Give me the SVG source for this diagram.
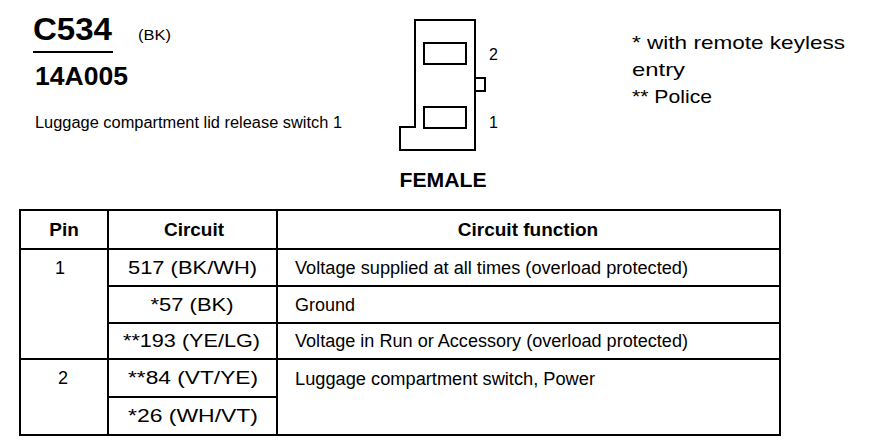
<svg xmlns="http://www.w3.org/2000/svg" width="890" height="448" viewBox="0 0 890 448">
<style>
text{font-family:"Liberation Sans",Arial,sans-serif;fill:#000}
.b{font-weight:bold}
.t{font-size:18px}
.th{font-size:19px;font-weight:bold;text-anchor:middle}
.c{text-anchor:middle}
.ln{stroke:#000;stroke-width:2;fill:none}
</style>
<rect width="890" height="448" fill="#fff"/>
<g id="header">
<text x="33" y="40" class="b" font-size="31" textLength="79" lengthAdjust="spacingAndGlyphs">C534</text>
<line x1="33" y1="52" x2="113" y2="52" stroke="#000" stroke-width="2"/>
<text x="138" y="40" font-size="14" textLength="33" lengthAdjust="spacingAndGlyphs">(BK)</text>
<text x="35" y="85" class="b" font-size="25" textLength="93" lengthAdjust="spacingAndGlyphs">14A005</text>
<text x="35" y="128" font-size="16" textLength="307" lengthAdjust="spacingAndGlyphs">Luggage compartment lid release switch 1</text>
</g>
<g id="connector">
<path class="ln" d="M415,20 H475 V150 H400 V127 H415 Z" stroke-width="2.5"/>
<rect class="ln" x="475" y="78" width="10" height="13"/>
<rect class="ln" x="424" y="43" width="42" height="21" stroke-width="2.5"/>
<rect class="ln" x="424" y="107" width="42" height="21" stroke-width="2.5"/>
<text x="489" y="60" font-size="16">2</text>
<text x="489" y="128" font-size="16">1</text>
<text x="443" y="187" class="b c" font-size="20" textLength="87" lengthAdjust="spacingAndGlyphs">FEMALE</text>
</g>
<g id="notes">
<text x="632" y="49" font-size="19" textLength="213" lengthAdjust="spacingAndGlyphs">* with remote keyless</text>
<text x="632" y="76" font-size="19" textLength="53" lengthAdjust="spacingAndGlyphs">entry</text>
<text x="632" y="103" font-size="19" textLength="80" lengthAdjust="spacingAndGlyphs">** Police</text>
</g>
<g id="table">
<g id="grid">
<rect class="ln" x="20" y="210" width="760" height="225" stroke-width="2.5"/>
<line class="ln" x1="108" y1="210" x2="108" y2="435"/>
<line class="ln" x1="277" y1="210" x2="277" y2="435"/>
<line class="ln" x1="20" y1="249" x2="780" y2="249" stroke-width="2.5"/>
<line class="ln" x1="20" y1="359" x2="780" y2="359" stroke-width="2.5"/>
<line class="ln" x1="108" y1="286" x2="780" y2="286"/>
<line class="ln" x1="108" y1="323" x2="780" y2="323"/>
<line class="ln" x1="108" y1="397" x2="277" y2="397"/>
</g>
<g id="head-row">
<text x="64" y="236" class="th">Pin</text>
<text x="194" y="236" class="th">Circuit</text>
<text x="528" y="236" class="th">Circuit function</text>
</g>
<g id="pin1">
<text x="60" y="274" class="t c">1</text>
<text x="192.5" y="274" class="t c" textLength="129" lengthAdjust="spacingAndGlyphs">517 (BK/WH)</text>
<text x="295" y="274" class="t" textLength="393" lengthAdjust="spacingAndGlyphs">Voltage supplied at all times (overload protected)</text>
<text x="192" y="311" class="t c" textLength="83" lengthAdjust="spacingAndGlyphs">*57 (BK)</text>
<text x="295" y="311" class="t" textLength="60" lengthAdjust="spacingAndGlyphs">Ground</text>
<text x="191.5" y="347" class="t c" textLength="137" lengthAdjust="spacingAndGlyphs">**193 (YE/LG)</text>
<text x="295" y="347" class="t" textLength="393" lengthAdjust="spacingAndGlyphs">Voltage in Run or Accessory (overload protected)</text>
</g>
<g id="pin2">
<text x="63" y="384" class="t c">2</text>
<text x="193" y="384" class="t c" textLength="130" lengthAdjust="spacingAndGlyphs">**84 (VT/YE)</text>
<text x="295" y="385" class="t" textLength="300" lengthAdjust="spacingAndGlyphs">Luggage compartment switch, Power</text>
<text x="193" y="422" class="t c" textLength="130" lengthAdjust="spacingAndGlyphs">*26 (WH/VT)</text>
</g>
</g>
</svg>
